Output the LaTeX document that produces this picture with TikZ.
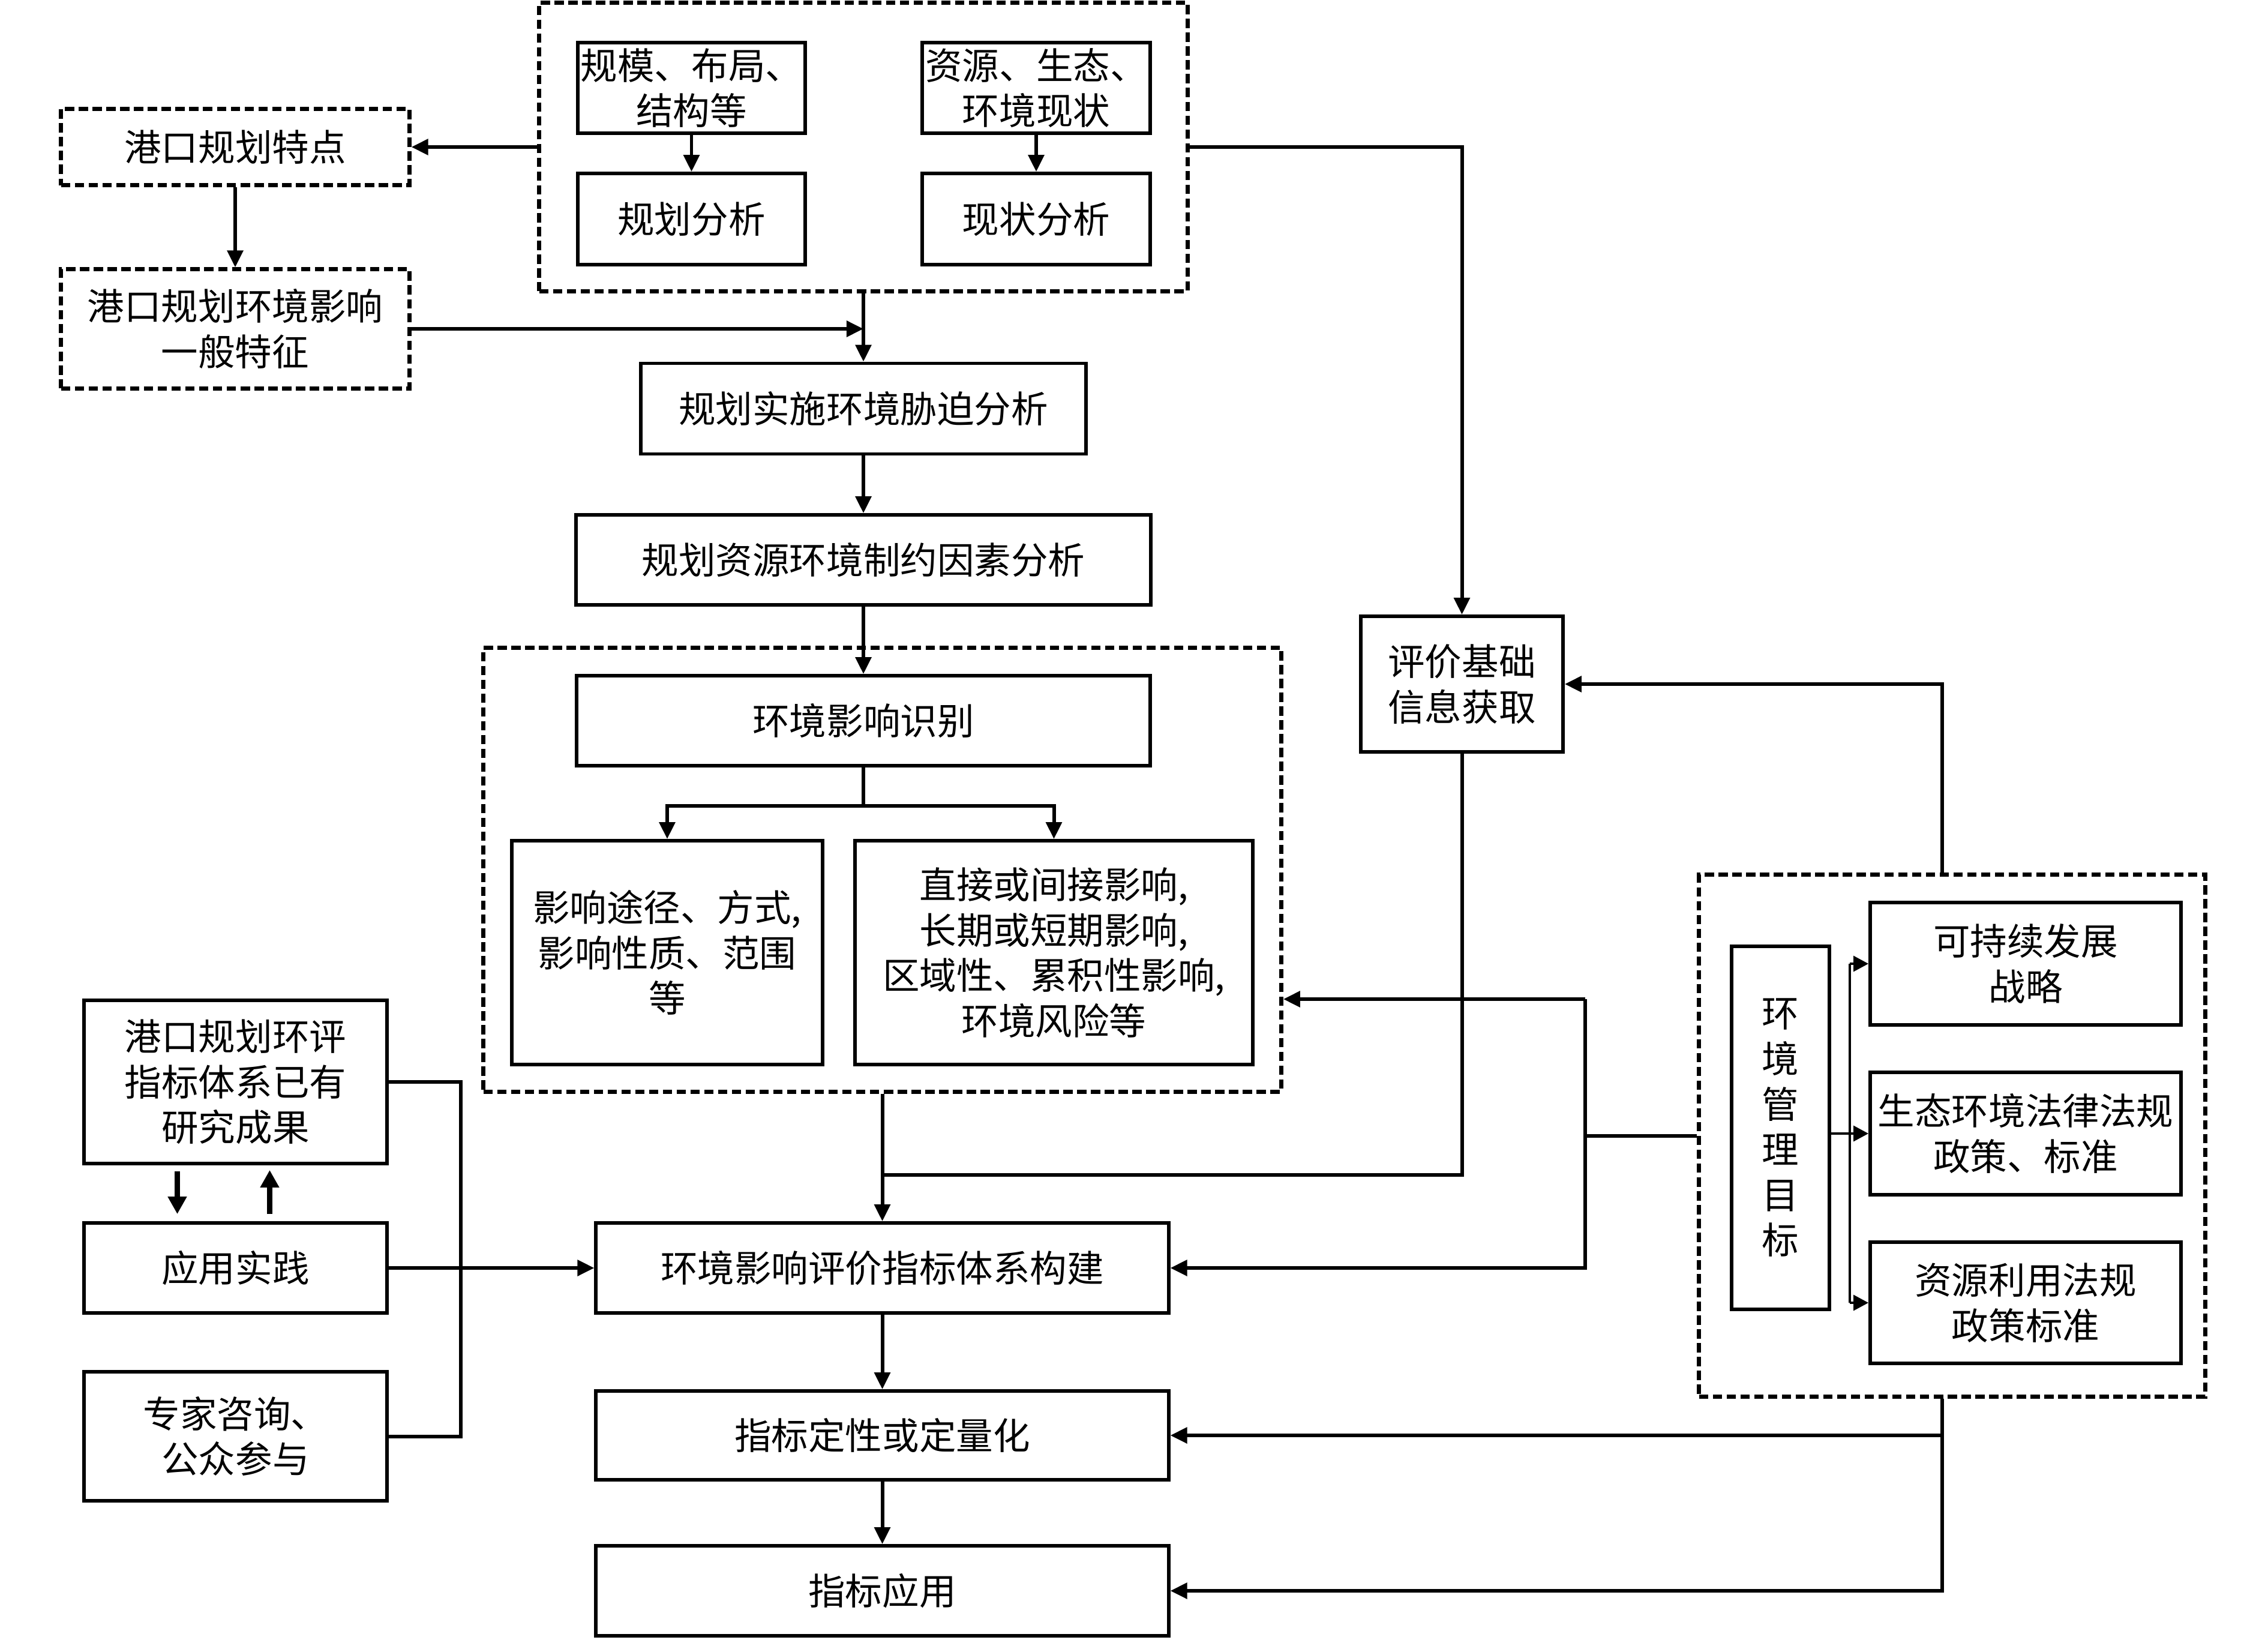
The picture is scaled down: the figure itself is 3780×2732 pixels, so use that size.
\documentclass[tikz,border=0pt]{standalone}
\usepackage{fontspec}
\setmainfont{Noto Sans CJK SC}
\usetikzlibrary{arrows.meta,calc}
\tikzset{
  box/.style={draw, line width=1.6pt, align=center, inner sep=0pt,
    font=\fontsize{17.5}{21.5}\selectfont},
  dashbox/.style={box, line width=2pt, dash pattern=on 0.155cm off 0.075cm},
  dbox/.style={draw, line width=2pt, dash pattern=on 0.155cm off 0.075cm, inner sep=0pt},
  conn/.style={line width=1.7pt},
  arr/.style={line width=1.7pt, -{Triangle[length=0.28cm,width=0.26cm]}},
  arrb/.style={line width=2.4pt, -{Triangle[length=0.29cm,width=0.30cm]}},
  thinl/.style={line width=0.9pt},
  thinarr/.style={line width=0.9pt, -{Triangle[length=0.25cm,width=0.26cm]}}
}
\begin{document}
\begin{tikzpicture}[x=0.01cm,y=-0.01cm]
\useasboundingbox (0,0) rectangle (3780,2732);
% dashed group boxes
\node[dbox, minimum width=10.80cm, minimum height=4.80cm] (D1) at (1439,245) {};
\node[dbox, minimum width=13.29cm, minimum height=7.39cm] (D2) at (1470.5,1449.5) {};
\node[dbox, minimum width=8.43cm, minimum height=8.69cm] (D3) at (3253.5,1892.5) {};
% left top
\node[dashbox, minimum width=5.80cm, minimum height=1.27cm] (tedian) at (392,245) {港口规划特点};
\node[dashbox, minimum width=5.80cm, minimum height=1.98cm] (yiban) at (392,548) {港口规划环境影响\\一般特征};
% top group
\node[box, minimum width=3.79cm, minimum height=1.51cm] (guimo) at (1152.5,146.5) {规模、布局、\\结构等};
\node[box, minimum width=3.80cm, minimum height=1.51cm] (ziyuan) at (1727,146.5) {资源、生态、\\环境现状};
\node[box, minimum width=3.79cm, minimum height=1.52cm] (ghfx) at (1152.5,365) {规划分析};
\node[box, minimum width=3.80cm, minimum height=1.52cm] (xzfx) at (1727,365) {现状分析};
% main column
\node[box, minimum width=7.42cm, minimum height=1.51cm] (xiepo) at (1439,681) {规划实施环境胁迫分析};
\node[box, minimum width=9.58cm, minimum height=1.50cm] (zhiyue) at (1439,933) {规划资源环境制约因素分析};
\node[box, minimum width=9.56cm, minimum height=1.50cm] (shibie) at (1439,1201) {环境影响识别};
\node[box, minimum width=5.18cm, minimum height=3.73cm] (tujing) at (1112,1587.5) {影响途径、方式,\\影响性质、范围\\等};
\node[box, minimum width=6.63cm, minimum height=3.73cm] (zhijie) at (1756.5,1587.5) {直接或间接影响,\\长期或短期影响,\\区域性、累积性影响,\\环境风险等};
\node[box, minimum width=3.37cm, minimum height=2.26cm] (pingjia) at (2436.5,1140) {评价基础\\信息获取};
% left bottom
\node[box, minimum width=5.05cm, minimum height=2.72cm] (yiyou) at (392.5,1803) {港口规划环评\\指标体系已有\\研究成果};
\node[box, minimum width=5.05cm, minimum height=1.50cm] (shijian) at (392.5,2113) {应用实践};
\node[box, minimum width=5.05cm, minimum height=2.15cm] (zhuanjia) at (392.5,2393.5) {专家咨询、\\公众参与};
% bottom column
\node[box, minimum width=9.54cm, minimum height=1.50cm] (goujian) at (1470.5,2113) {环境影响评价指标体系构建};
\node[box, minimum width=9.54cm, minimum height=1.48cm] (lianghua) at (1470.5,2392) {指标定性或定量化};
\node[box, minimum width=9.54cm, minimum height=1.50cm] (yingyong) at (1470.5,2651) {指标应用};
% right group
\node[box, minimum width=1.63cm, minimum height=6.05cm] (mubiao) at (2967.5,1879.5) {环\\境\\管\\理\\目\\标};
\node[box, minimum width=5.18cm, minimum height=2.04cm] (kcx) at (3376,1606) {可持续发展\\战略};
\node[box, minimum width=5.18cm, minimum height=2.04cm] (shengtai) at (3376,1889) {生态环境法律法规\\政策、标准};
\node[box, minimum width=5.18cm, minimum height=2.02cm] (ziyuanly) at (3376,2171) {资源利用法规\\政策标准};
% helper coordinates
\coordinate (c3) at (3237,0);
\coordinate (bx) at (3083,0);
% connectors top
\draw[arr] (D1.west) -- (D1.west -| tedian.east);
\draw[arr] (tedian.south) -- (yiban.north);
\draw[arr] (yiban.east) -- (yiban.east -| D1.south);
\draw[arr] (D1.south) -- (xiepo.north);
\draw[arr] (guimo.south) -- (ghfx.north);
\draw[arr] (ziyuan.south) -- (xzfx.north);
\draw[arr] (xiepo.south) -- (zhiyue.north);
\draw[arr] (zhiyue.south) -- (shibie.north);
\coordinate (br) at ($(shibie.south)+(0,64)$);
\draw[conn] (shibie.south) -- (br);
\draw[arr] (br) -| (tujing.north);
\draw[arr] (br) -| (zhijie.north);
\draw[arr] (D1.east) -| (pingjia.north);
% middle
\coordinate (j1) at ($(D2.south)+(0,135)$);
\draw[conn] (pingjia.south) |- (j1);
\draw[arr] (D2.south) -- (goujian.north);
\draw[arr] (goujian.south) -- (lianghua.north);
\draw[arr] (lianghua.south) -- (yingyong.north);
% left bottom
\draw[conn] (yiyou.east) -- ++(120,0) |- (zhuanjia.east);
\draw[arr] (shijian.east) -- (goujian.west);
\draw[arrb] ($(yiyou.south)+(-97,10)$) -- ($(shijian.north)+(-97,-12)$);
\draw[arrb] ($(shijian.north)+(57,-12)$) -- ($(yiyou.south)+(57,8)$);
% right
\draw[conn] (D3.west) -- ++(-186,0) coordinate (m);
\coordinate (t1) at ($(m)+(0,-227.5)$);
\draw[conn] (m) -- (t1);
\draw[arr] (t1) -- (t1 -| D2.east);
\draw[arr] (m) |- (goujian.east);
\draw[arr] (c3 |- D3.north) |- (pingjia.east);
\draw[arr] (c3 |- D3.south) |- (lianghua.east);
\draw[arr] (c3 |- D3.south) |- (yingyong.east);
% bracket
\draw[thinarr] (mubiao.east |- shengtai.west) -- (shengtai.west);
\draw[thinl] (bx |- kcx.west) -- (bx |- ziyuanly.west);
\draw[thinarr] (bx |- kcx.west) -- (kcx.west);
\draw[thinarr] (bx |- ziyuanly.west) -- (ziyuanly.west);
\end{tikzpicture}
\end{document}
